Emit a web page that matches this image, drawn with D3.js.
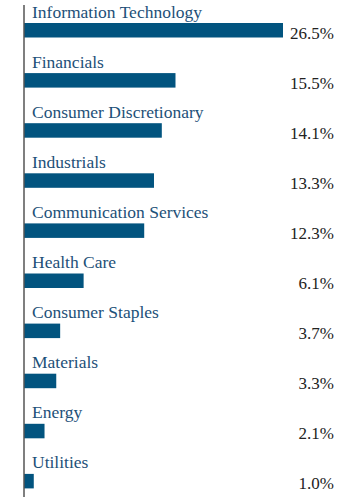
<!DOCTYPE html>
<html><head><meta charset="utf-8">
<script src="https://cdn.jsdelivr.net/npm/d3@7"></script>
<style>body{margin:0;background:#fff}</style>
</head><body>
<svg id="c" width="360" height="497"></svg>
<script>
const categories = ["Information Technology","Financials","Consumer Discretionary","Industrials","Communication Services","Health Care","Consumer Staples","Materials","Energy","Utilities"];
const values = [26.5,15.5,14.1,13.3,12.3,6.1,3.7,3.3,2.1,1.0];
const valueLabels = ["26.5%","15.5%","14.1%","13.3%","12.3%","6.1%","3.7%","3.3%","2.1%","1.0%"];

const svg = d3.select("#c");
const x0 = 24;
const x = d3.scaleLinear().domain([0,26.5]).range([x0, 283]);
const y = d3.scaleBand().domain(categories).range([5, 506]).paddingInner(0).paddingOuter(0);
const font = "'Liberation Serif', serif";

const g = svg.selectAll("g.row").data(categories).enter().append("g");
g.append("rect")
  .attr("x", x0)
  .attr("y", d => y(d) + 18)
  .attr("width", (d,i) => x(values[i]) - x0)
  .attr("height", 14.5)
  .attr("fill", "#02547f");
g.append("text")
  .attr("x", 32)
  .attr("y", d => y(d) + 12.5)
  .attr("font-family", font)
  .attr("font-size", 17.5)
  .attr("fill", "#1d5078")
  .text(d => d);
g.append("text")
  .attr("x", 334)
  .attr("y", d => y(d) + 33.5)
  .attr("text-anchor", "end")
  .attr("font-family", font)
  .attr("font-size", 17)
  .attr("fill", "#222")
  .text((d,i) => valueLabels[i]);

svg.append("line").attr("x1", x0).attr("x2", x0).attr("y1", 5).attr("y2", 497)
  .attr("stroke", "#555").attr("stroke-width", 1.5);
</script>
</body></html>
